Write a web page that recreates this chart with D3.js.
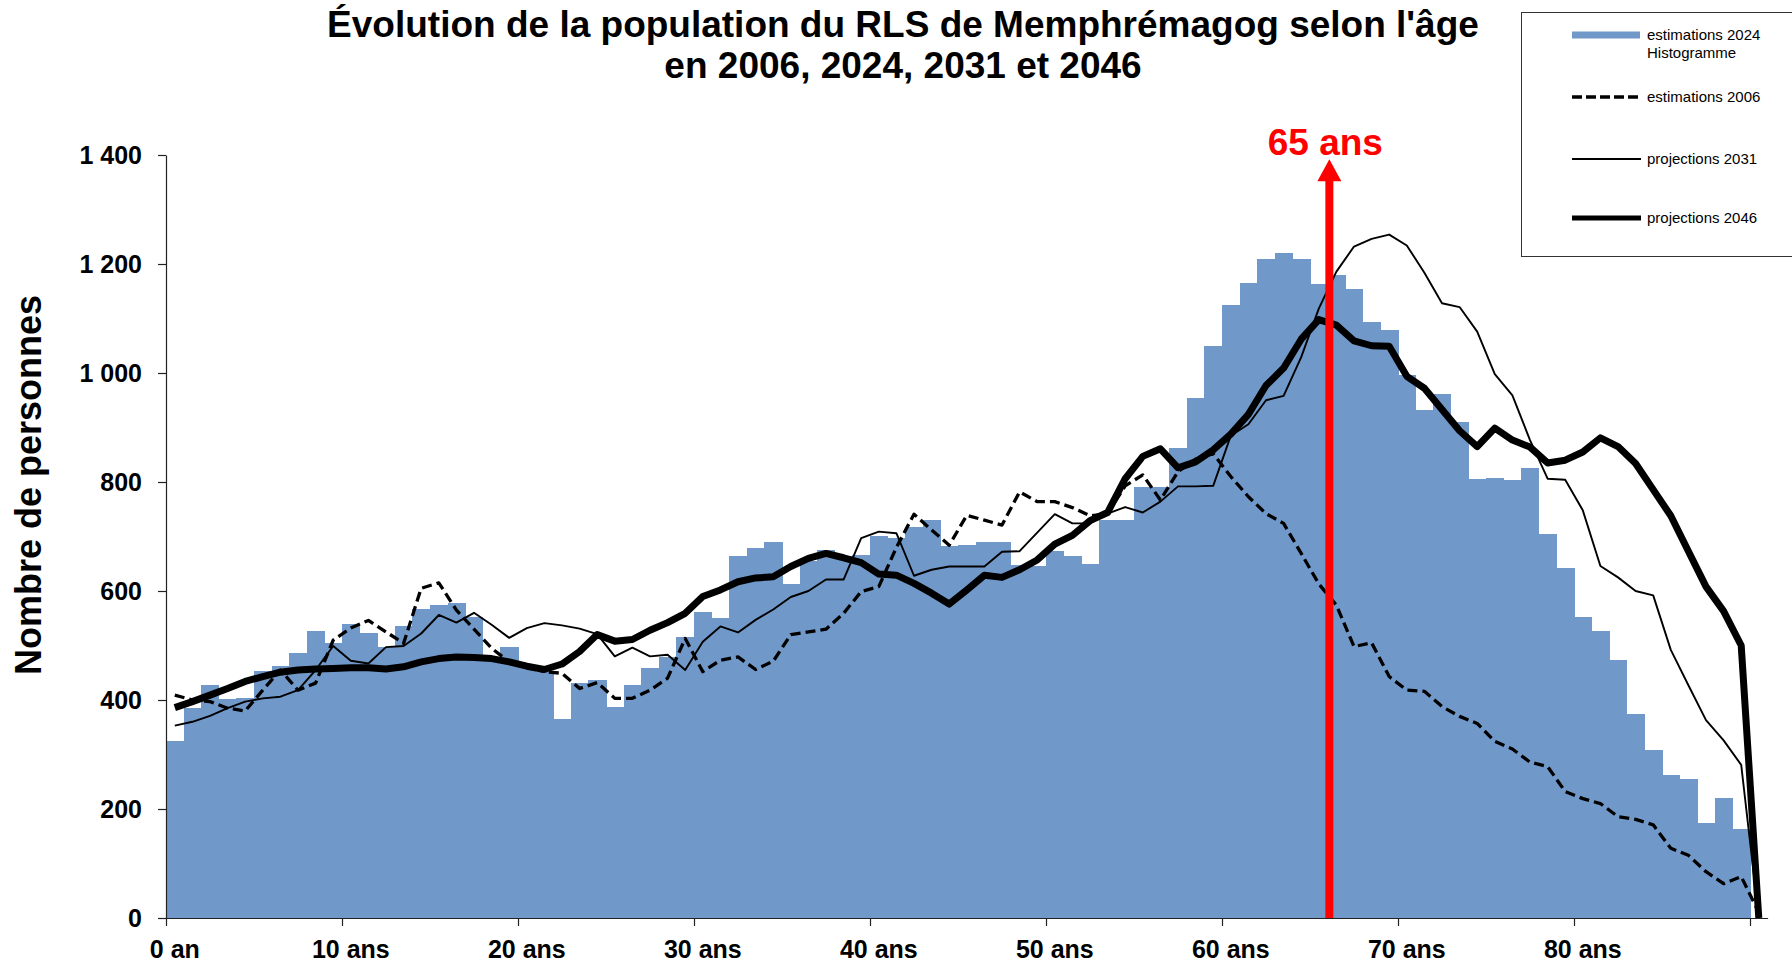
<!DOCTYPE html>
<html lang="fr">
<head>
<meta charset="utf-8">
<title>Évolution de la population du RLS de Memphrémagog</title>
<script src="https://cdn.jsdelivr.net/npm/d3@7"></script>
<style>
    body { margin: 0; background: #fff; }
    svg { display: block; font-family: 'Liberation Sans', Arial, sans-serif; }
</style>
</head>
<body>
<svg id="chart" width="1792" height="962"></svg>
<script>
// ages 0 a 90 ans
const ages = d3.range(0, 91)

// estimations 2024 (histogramme)
const est2024 = [325, 386, 427, 401, 404, 453, 462, 487, 527, 505,
    539, 523, 497, 536, 567, 574, 578, 552, 476, 498,
    459, 452, 366, 432, 436, 388, 427, 458, 479, 516,
    562, 551, 665, 678, 690, 613, 655, 676, 664, 666,
    701, 698, 718, 730, 683, 684, 689, 689, 647, 645,
    673, 665, 650, 730, 730, 791, 791, 862, 954, 1049,
    1125, 1165, 1210, 1221, 1210, 1163, 1180, 1154, 1094, 1079,
    997, 933, 962, 911, 806, 808, 804, 826, 705, 642,
    553, 526, 474, 374, 308, 263, 255, 175, 221, 163,
    0]

// estimations 2006
const est2006 = [409, 400, 397, 385, 380, 418, 455, 418, 431, 510,
    532, 546, 525, 504, 605, 615, 565, 530, 495, 470,
    461, 452, 449, 421, 432, 403, 403, 418, 440, 513,
    452, 473, 479, 456, 471, 520, 525, 530, 559, 599,
    608, 680, 741, 712, 684, 739, 730, 721, 782, 764,
    764, 753, 738, 742, 793, 813, 767, 819, 842, 852,
    810, 773, 742, 724, 669, 613, 574, 498, 505, 443,
    418, 416, 388, 370, 357, 324, 310, 286, 278, 232,
    219, 210, 186, 181, 171, 128, 115, 85, 63, 76,
    10]

// projections 2031
const proj2031 = [353, 360, 371, 385, 397, 403, 406, 418, 455, 499,
    472, 467, 497, 499, 522, 556, 542, 560, 538, 514,
    532, 541, 537, 531, 521, 480, 496, 480, 483, 455,
    507, 535, 524, 547, 566, 589, 600, 621, 621, 697,
    709, 706, 628, 639, 645, 645, 645, 672, 673, 707,
    741, 724, 724, 742, 754, 744, 764, 792, 792, 793,
    885, 906, 950, 958, 1029, 1118, 1186, 1232, 1246, 1254,
    1234, 1184, 1128, 1121, 1076, 998, 959, 877, 806, 804,
    748, 646, 625, 600, 592, 492, 427, 363, 326, 281,
    0]

// projections 2046
const proj2046 = [386, 397, 409, 421, 434, 443, 451, 455, 457, 458,
    459, 459, 457, 461, 470, 476, 479, 478, 476, 470,
    462, 456, 466, 489, 520, 508, 511, 528, 542, 559,
    590, 602, 617, 624, 626, 645, 660, 669, 661, 652,
    631, 629, 614, 596, 576, 602, 629, 625, 639, 657,
    686, 702, 729, 744, 806, 847, 861, 826, 837, 859,
    888, 924, 977, 1009, 1062, 1098, 1088, 1059, 1050, 1049,
    994, 972, 933, 894, 865, 899, 877, 864, 835, 840,
    855, 881, 865, 834, 786, 738, 673, 608, 563, 500,
    0]

const xLabelAges = [0, 10, 20, 30, 40, 50, 60, 70, 80]
const xLabels = ['0 an', '10 ans', '20 ans', '30 ans', '40 ans', '50 ans', '60 ans', '70 ans', '80 ans']
const xTickAges = [0, 10, 20, 30, 40, 50, 60, 70, 80, 90]
const yTicks = [0, 200, 400, 600, 800, 1000, 1200, 1400]

const legendItems = ['estimations 2024', 'estimations 2006', 'projections 2031', 'projections 2046']

const marker65 = { age: 66.1, top: 1392, label: '65 ans' }

const blue = '#7099ca'
const red = '#ff0000'

const svg = d3.select('#chart')

const plotLeft = 166
const plotRight = 1767.6
const plotTop = 155
const plotBottom = 918

const x = d3.scaleBand()
    .domain(ages)
    .range([plotLeft, plotRight])
    .padding(0)

const xLin = d3.scaleLinear()
    .domain([0, ages.length])
    .range([plotLeft, plotRight])

const y = d3.scaleLinear()
    .domain([0, 1400])
    .range([plotBottom, plotTop])

const fr = d3.formatLocale({ decimal: ',', thousands: '\u00a0', grouping: [3], currency: ['', ''] })
const fmt = fr.format(',')

// titre
const title = svg.append('text')
    .attr('text-anchor', 'middle')
    .style('font-weight', 'bold')
    .style('font-size', '37px')

title.append('tspan')
    .attr('x', 903)
    .attr('y', 37)
    .text('Évolution de la population du RLS de Memphrémagog selon l\'âge')

title.append('tspan')
    .attr('x', 903)
    .attr('y', 78)
    .text('en 2006, 2024, 2031 et 2046')

// histogramme 2024
svg.append('g')
    .selectAll('rect')
    .data(ages)
    .join('rect')
    .attr('x', d => x(d))
    .attr('y', d => y(est2024[d]))
    .attr('width', x.bandwidth() + 0.6)
    .attr('height', d => y(0) - y(est2024[d]))
    .attr('fill', blue)
    .attr('shape-rendering', 'crispEdges')

const line = values => d3.line()
    .x(d => x(d) + x.bandwidth() / 2)
    .y(d => y(values[d]))(ages)

svg.append('path')
    .attr('d', line(est2006))
    .attr('fill', 'none')
    .attr('stroke', '#000')
    .attr('stroke-width', 3.3)
    .attr('stroke-dasharray', '10,5')
    .attr('stroke-linejoin', 'round')

svg.append('path')
    .attr('d', line(proj2031))
    .attr('fill', 'none')
    .attr('stroke', '#000')
    .attr('stroke-width', 1.9)
    .attr('stroke-linejoin', 'round')

svg.append('path')
    .attr('d', line(proj2046))
    .attr('fill', 'none')
    .attr('stroke', '#000')
    .attr('stroke-width', 7)
    .attr('stroke-linejoin', 'round')

// axes
const yAxis = svg.append('g')
    .attr('transform', `translate(${plotLeft},0)`)
    .call(d3.axisLeft(y).tickValues(yTicks).tickFormat(fmt).tickSize(8).tickSizeOuter(0).tickPadding(16))

yAxis.selectAll('text')
    .style('font-size', '25px')
    .style('font-weight', 'bold')
    .attr('fill', '#000')

svg.append('g')
    .attr('transform', `translate(0,${plotBottom})`)
    .call(d3.axisBottom(xLin).tickValues(xTickAges).tickFormat('').tickSize(8).tickSizeOuter(0))

const xLabelAxis = svg.append('g')
    .attr('transform', `translate(0,${plotBottom})`)
    .call(d3.axisBottom(x).tickValues(xLabelAges).tickFormat((d, i) => xLabels[i]).tickSize(0).tickPadding(22))

xLabelAxis.select('.domain').remove()
xLabelAxis.selectAll('text')
    .style('font-size', '25px')
    .style('font-weight', 'bold')
    .attr('fill', '#000')

svg.selectAll('.domain, .tick line')
    .attr('stroke', '#222')
    .attr('stroke-width', 1.2)

// titre axe y
svg.append('text')
    .attr('transform', 'translate(41,485) rotate(-90)')
    .attr('text-anchor', 'middle')
    .style('font-size', '36px')
    .style('font-weight', 'bold')
    .text('Nombre de personnes')

// fleche 65 ans
const ax = xLin(marker65.age)
const tipY = y(marker65.top)

svg.append('rect')
    .attr('x', ax - 4)
    .attr('y', tipY + 20)
    .attr('width', 8)
    .attr('height', y(0) - tipY - 20)
    .attr('fill', red)

svg.append('path')
    .attr('d', `M${ax},${tipY}L${ax + 12},${tipY + 22}L${ax - 12},${tipY + 22}Z`)
    .attr('fill', red)

svg.append('text')
    .attr('x', ax - 4)
    .attr('y', y(1400))
    .attr('text-anchor', 'middle')
    .attr('fill', red)
    .style('font-size', '37px')
    .style('font-weight', 'bold')
    .text(marker65.label)

// legende
const legend = svg.append('g')

legend.append('rect')
    .attr('x', 1521.5)
    .attr('y', 12.5)
    .attr('width', 300)
    .attr('height', 244)
    .attr('fill', '#fff')
    .attr('stroke', '#333')
    .attr('stroke-width', 1)

const legendY = [35, 97, 159, 218]

legend.append('rect')
    .attr('x', 1572)
    .attr('y', legendY[0] - 3.5)
    .attr('width', 68)
    .attr('height', 7)
    .attr('fill', blue)

const legendStyles = [null, { w: 3.3, dash: '10,4' }, { w: 1.9, dash: null }, { w: 5, dash: null }]

legendStyles.forEach((s, i) => {
    if (!s) return
    legend.append('line')
        .attr('x1', 1572)
        .attr('x2', 1641)
        .attr('y1', legendY[i])
        .attr('y2', legendY[i])
        .attr('stroke', '#000')
        .attr('stroke-width', s.w)
        .attr('stroke-dasharray', s.dash)
})

legend.selectAll('text.item')
    .data(legendItems)
    .join('text')
    .attr('class', 'item')
    .attr('x', 1647)
    .attr('y', (d, i) => legendY[i] + 5)
    .style('font-size', '15px')
    .text(d => d)

legend.append('text')
    .attr('x', 1647)
    .attr('y', legendY[0] + 23)
    .style('font-size', '15px')
    .text('Histogramme')
</script>
</body>
</html>
